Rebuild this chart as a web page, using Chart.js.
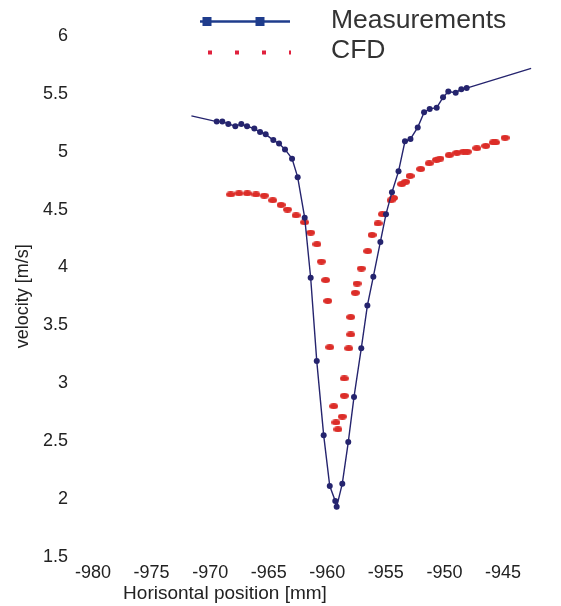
<!DOCTYPE html>
<html>
<head>
<meta charset="utf-8">
<style>
  html, body { margin: 0; padding: 0; background: #ffffff; }
  canvas { display: block; }
</style>
<script src="https://cdn.jsdelivr.net/npm/chart.js@4.4.1/dist/chart.umd.min.js"></script>
</head>
<body>
<canvas id="chart" width="561" height="606"></canvas>
<script>
// Horizontal velocity profile across the wake: measured values and CFD result
const measX = [-971.6, -969.44, -968.96, -968.45, -967.85, -967.34, -966.85, -966.23, -965.74, -965.26,
               -964.61, -964.12, -963.61, -963.01, -962.53, -961.93, -961.42, -960.90, -960.31, -959.79,
               -959.32, -959.20, -958.72, -958.21, -957.72, -957.10, -956.58, -956.07, -955.47, -954.99,
               -954.48, -953.92, -953.37, -952.90, -952.28, -951.74, -951.26, -950.66, -950.12, -949.67,
               -949.04, -948.56, -948.10, -942.6];
const measY = [5.31, 5.26, 5.26, 5.24, 5.22, 5.24, 5.22, 5.20, 5.17, 5.15,
               5.10, 5.07, 5.02, 4.94, 4.78, 4.43, 3.91, 3.19, 2.55, 2.11,
               1.98, 1.93, 2.13, 2.49, 2.88, 3.30, 3.67, 3.92, 4.22, 4.46,
               4.65, 4.83, 5.09, 5.11, 5.21, 5.34, 5.37, 5.38, 5.47, 5.52,
               5.51, 5.54, 5.55, 5.72];

const cfdX = [-968.25, -967.54, -966.83, -966.09, -965.38, -964.66, -963.95, -963.40, -962.67, -961.94,
              -961.42, -960.88, -960.51, -960.14, -959.96, -959.79, -959.45, -959.26, -959.09, -958.72,
              -958.55, -958.55, -958.17, -958.00, -958.00, -957.61, -957.46, -957.10, -956.55, -956.18,
              -955.67, -955.30, -954.56, -954.35, -953.65, -953.31, -952.94, -952.03, -951.30, -950.68,
              -950.38, -949.59, -948.94, -948.37, -948.05, -947.24, -946.47, -945.83, -945.64, -944.83];
const cfdY = [4.63, 4.64, 4.64, 4.63, 4.62, 4.58, 4.54, 4.50, 4.45, 4.39,
              4.30, 4.20, 4.05, 3.89, 3.71, 3.31, 2.80, 2.66, 2.60, 2.71,
              2.89, 3.04, 3.30, 3.42, 3.57, 3.78, 3.86, 3.99, 4.14, 4.28,
              4.38, 4.46, 4.58, 4.60, 4.72, 4.74, 4.79, 4.85, 4.90, 4.93,
              4.94, 4.97, 4.99, 5.00, 5.00, 5.03, 5.05, 5.08, 5.08, 5.12];

const xTicks = [-980, -975, -970, -965, -960, -955, -950, -945];
const yTicks = [1.5, 2, 2.5, 3, 3.5, 4, 4.5, 5, 5.5, 6];

const seriesNames = ['Measurements', 'CFD'];
const xTitle = 'Horisontal position [mm]';
const yTitle = 'velocity [m/s]';
const FONT = "'Liberation Sans', Arial, Helvetica, sans-serif";
const NAVY = '#25246e';
const RED = '#dc2d28';

// flattened elliptical marker for the CFD points
function ellipseMarker(w, h, color) {
  const c = document.createElement('canvas');
  c.width = w; c.height = h;
  const g = c.getContext('2d');
  g.fillStyle = color;
  g.beginPath();
  g.ellipse(w / 2, h / 2, w / 2, h / 2, 0, 0, Math.PI * 2);
  g.fill();
  return c;
}
const cfdMarker = ellipseMarker(9, 6, RED);

const toPoints = (xs, ys) => xs.map((x, i) => ({ x: x, y: ys[i] }));

// legend drawn over the top of the plot, taking its labels from the datasets,
// plus the horizontal axis caption placed left of centre
const overlayLegend = {
  id: 'overlayLegend',
  afterDraw(chart) {
    const ctx = chart.ctx;
    const ds = chart.data.datasets;
    ctx.save();
    // measurements entry: line with square markers
    ctx.strokeStyle = '#1f3c8c';
    ctx.lineWidth = 2.5;
    ctx.beginPath();
    ctx.moveTo(200, 21.5);
    ctx.lineTo(290, 21.5);
    ctx.stroke();
    ctx.fillStyle = '#1f3c8c';
    [207, 260].forEach(cx => ctx.fillRect(cx - 4.5, 17, 9, 9));
    // CFD entry: small dotted squares
    ctx.fillStyle = '#e0203c';
    [210, 237, 264].forEach(cx => ctx.fillRect(cx - 2, 50.5, 4, 4));
    ctx.fillRect(289, 50.5, 2, 4);
    // labels
    ctx.fillStyle = '#333333';
    ctx.font = '26.5px ' + FONT;
    ctx.textAlign = 'left';
    ctx.textBaseline = 'middle';
    ctx.fillText(ds[0].label, 331, 21);
    ctx.fillText(ds[1].label, 331, 51);
    // horizontal axis caption
    ctx.fillStyle = '#222222';
    ctx.font = '19px ' + FONT;
    ctx.textAlign = 'center';
    ctx.fillText(xTitle, 225, 594);
    ctx.restore();
  }
};

new Chart(document.getElementById('chart'), {
  type: 'scatter',
  data: {
    datasets: [
      {
        label: seriesNames[0],
        data: toPoints(measX, measY),
        showLine: true,
        borderColor: NAVY,
        backgroundColor: NAVY,
        borderWidth: 1.4,
        tension: 0,
        pointRadius: ctx => (ctx.dataIndex === 0 || ctx.dataIndex === measX.length - 1) ? 0 : 3,
        pointBorderWidth: 0,
        pointHoverRadius: 3
      },
      {
        label: seriesNames[1],
        data: toPoints(cfdX, cfdY),
        showLine: false,
        pointStyle: cfdMarker,
        backgroundColor: RED,
        borderColor: RED
      }
    ]
  },
  options: {
    responsive: false,
    animation: false,
    devicePixelRatio: 1,
    layout: { padding: { top: 36, right: 28.7, bottom: 0, left: 0 } },
    plugins: {
      legend: { display: false },
      tooltip: { enabled: false }
    },
    scales: {
      x: {
        type: 'linear',
        min: -981,
        max: -942.5,
        afterBuildTicks: s => { s.ticks = xTicks.map(v => ({ value: v })); },
        afterFit: s => { s.height = 49.4; },
        grid: { display: false, drawTicks: false },
        border: { display: false },
        ticks: {
          padding: 5.5,
          color: '#222222',
          font: { family: FONT, size: 18 },
          callback: v => String(v)
        },
        title: { display: false }
      },
      y: {
        type: 'linear',
        min: 1.5,
        max: 6,
        afterBuildTicks: s => { s.ticks = yTicks.map(v => ({ value: v })); },
        afterFit: s => { s.width = 81.3; },
        grid: { display: false, drawTicks: false },
        border: { display: false },
        ticks: {
          padding: 13.3,
          color: '#222222',
          font: { family: FONT, size: 18 },
          callback: v => String(v)
        },
        title: {
          display: true,
          text: yTitle,
          color: '#222222',
          font: { family: FONT, size: 18 },
          padding: { top: 12.5, bottom: 0 }
        }
      }
    }
  },
  plugins: [overlayLegend]
});
</script>
</body>
</html>
